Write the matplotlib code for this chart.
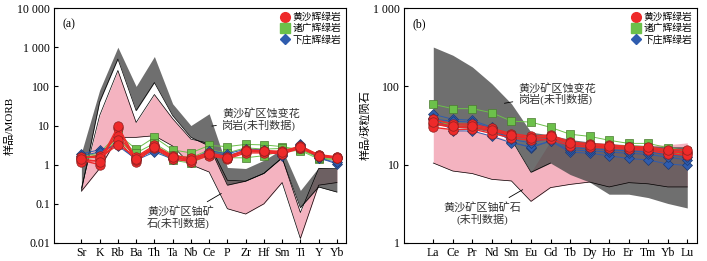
import numpy as np
import matplotlib
matplotlib.use("Agg")
import matplotlib.pyplot as plt
from matplotlib.ticker import FixedLocator, NullLocator

plt.rcParams['font.family'] = ['Liberation Serif', 'Noto Sans CJK SC']
plt.rcParams['axes.unicode_minus'] = False

# ---- data: panel (a), MORB normalised ----
elem_a = ['Sr', 'K', 'Rb', 'Ba', 'Th', 'Ta', 'Nb', 'Ce', 'P', 'Zr', 'Hf', 'Sm', 'Ti', 'Y', 'Yb']

granite_hi_a = [2.0, 80, 1000, 100, 580, 36, 10, 20, 0.85, 0.8, 1.3, 2.5, 0.22, 0.85, 0.8]
granite_lo_a = [0.22, 40, 500, 24, 125, 18, 5, 3.0, 0.3, 0.38, 0.6, 1.5, 0.08, 0.27, 0.2]
ore_hi_a = [0.25, 18, 255, 12, 62, 15, 4.5, 3.5, 0.4, 0.38, 0.6, 1.5, 0.06, 0.8, 0.8]
ore_lo_a = [0.21, 0.8, 5, 5, 5.5, 3, 1.0, 0.65, 0.075, 0.055, 0.1, 0.35, 0.013, 0.3, 0.35]

huangsha_a = [
    [1.3, 1.0, 8.5, 1.15, 3.0, 1.6, 1.4, 1.85, 1.45, 2.3, 2.2, 2.1, 2.8, 1.75, 1.5],
    [1.5, 1.7, 5.5, 1.5, 2.8, 1.5, 1.3, 1.8, 1.5, 2.2, 2.1, 2.0, 2.7, 1.7, 1.55],
    [1.2, 1.3, 4.2, 1.3, 2.6, 1.4, 1.2, 1.7, 1.4, 2.0, 2.0, 1.9, 2.6, 1.65, 1.45],
    [1.6, 1.5, 3.2, 1.6, 3.1, 1.7, 1.5, 2.0, 1.6, 2.4, 2.3, 2.2, 3.0, 1.8, 1.6],
    [1.4, 1.2, 9.5, 1.4, 2.9, 1.55, 1.35, 1.9, 1.5, 2.3, 2.2, 2.1, 2.9, 1.7, 1.5],
]
zhuguang_a = [
    [1.6, 2.0, 6.0, 2.5, 5.0, 2.4, 2.0, 3.1, 2.9, 3.3, 3.2, 2.9, 2.4, 1.6, 1.4],
    [1.4, 1.6, 4.5, 1.6, 2.5, 1.3, 1.1, 1.8, 1.5, 1.5, 1.7, 2.2, 2.3, 1.4, 1.3],
    [1.5, 1.8, 5.0, 2.0, 3.5, 1.8, 1.5, 2.4, 2.0, 2.7, 2.5, 2.6, 2.5, 1.5, 1.35],
]
xiazhuang_a = [
    [1.9, 2.4, 3.0, 1.4, 2.3, 1.5, 1.3, 2.3, 1.9, 2.5, 2.4, 1.7, 3.3, 1.5, 1.05],
    [1.7, 2.1, 3.5, 1.3, 2.1, 1.4, 1.2, 2.0, 1.7, 2.3, 2.2, 1.8, 3.1, 1.45, 1.15],
]

# ---- data: panel (b), chondrite normalised REE ----
elem_b = ['La', 'Ce', 'Pr', 'Nd', 'Sm', 'Eu', 'Gd', 'Tb', 'Dy', 'Ho', 'Er', 'Tm', 'Yb', 'Lu']

granite_hi_b = [318, 250, 177, 108, 60, 26, 24, 21, 19.5, 18.5, 18, 17.5, 17, 17]
granite_lo_b = [33, 30, 29, 26, 21, 8, 10.5, 7.5, 6.0, 4.2, 4.2, 3.8, 3.2, 2.8]
ore_hi_b = [30, 28, 27, 24, 20, 8, 20, 18, 17.5, 17.5, 17.5, 17.5, 18, 19]
ore_lo_b = [10.5, 8.3, 7.7, 6.5, 6.2, 3.4, 5.1, 5.6, 6.0, 5.2, 5.9, 5.7, 5.2, 5.2]

huangsha_b = [
    [38, 33, 33, 29, 25, 23, 24, 19.5, 18.5, 18, 17, 16.5, 15, 14.5],
    [33, 30, 30, 27, 23.5, 21.5, 22.5, 18.5, 17.5, 17, 16.5, 16, 14.5, 14],
    [30, 28, 28.5, 25, 22, 20.5, 21, 17.5, 16.8, 16.3, 15.8, 15.3, 13.8, 13.2],
    [35, 31, 31.5, 28, 24, 22, 23, 19, 18, 17.5, 17, 16.8, 15.5, 15.5],
]
zhuguang_b = [
    [59, 52, 52, 46, 36, 35, 30, 24.5, 23, 20.5, 18.7, 18.7, 16.5, 15],
    [36, 32, 32, 28, 24, 22, 23, 19, 18, 17.5, 17.5, 17, 15, 13],
]
xiazhuang_b = [
    [44, 38, 37, 30, 19.5, 16.5, 20, 14.5, 14, 13, 12, 11.5, 10.2, 9.8],
    [40, 27, 27, 23, 19, 17, 20, 15.5, 15, 14.5, 14, 13.5, 12.5, 11.5],
    [38, 36, 35, 29, 21, 19, 22, 16.5, 16, 15.5, 15, 14.5, 13.5, 12.5],
]

legend_labels = ['黄沙辉绿岩', '诸广辉绿岩', '下庄辉绿岩']

pink = '#f4b3c0'
gray = (75 / 255, 75 / 255, 75 / 255)
red = '#ee2a2a'
green = '#6cc04a'
blue = '#2f5cae'


def draw_samples(ax, x, groups):
    styles = [
        (red, 'o', 6.8, '#8a2020', 1.0),
        (green, 's', 5.5, '#4a7a30', 0.7),
        (blue, 'D', 5.0, '#1e3a70', 0.7),
    ]
    zorders = [6, 4, 5]
    for grp, (c, m, ms, ec, lw), z in zip(groups, styles, zorders):
        for s in grp:
            ax.plot(x, s, color=c, lw=lw, marker=m, ms=ms, mfc=c,
                    mec=ec, mew=0.5, zorder=z)


def style_axes(ax, labels, ylim, yticks, yticklabels):
    ax.set_yscale('log')
    ax.set_ylim(*ylim)
    ax.set_xlim(-1.5, len(labels) - 0.5)
    ax.set_xticks(range(len(labels)))
    ax.set_xticklabels(labels, fontsize=8.5)
    ax.yaxis.set_major_locator(FixedLocator(yticks))
    ax.yaxis.set_minor_locator(NullLocator())
    ax.set_yticklabels(yticklabels, fontsize=8.5)
    ax.tick_params(direction='in', length=3, width=0.8, pad=3)
    for sp in ax.spines.values():
        sp.set_linewidth(0.8)


fig = plt.figure(figsize=(7.07, 2.61), dpi=100)
ax1 = fig.add_axes([0.0764, 0.069, 0.413, 0.900])
ax2 = fig.add_axes([0.5714, 0.069, 0.4145, 0.900])

# ---- panel (a) ----
xa = np.arange(len(elem_a))
ax1.fill_between(xa, ore_lo_a, ore_hi_a, color=pink, lw=0, zorder=1)
ax1.fill_between(xa, granite_lo_a, granite_hi_a, color=gray, alpha=0.8, lw=0, zorder=2)
for edge in (ore_lo_a, ore_hi_a, granite_lo_a):
    ax1.plot(xa, edge, color='black', lw=0.5, zorder=3)
draw_samples(ax1, xa, [huangsha_a, zhuguang_a, xiazhuang_a])
style_axes(ax1, elem_a, (0.01, 10000),
           [0.01, 0.1, 1, 10, 100, 1000, 10000],
           ['0.01', '0.1', '1', '10', '100', '1 000', '10 000'])
ax1.set_ylabel('样品/MORB', fontsize=8, labelpad=2)
ax1.text(0.03, 0.955, '(a)', transform=ax1.transAxes, fontsize=8.5, va='top')

ax1.annotate('黄沙矿区蚀变花\n岗岩(未刊数据)', xy=(7.0, 9.5), xytext=(7.7, 14),
             fontsize=8, color='#333333', va='center', ha='left', linespacing=1.1,
             arrowprops=dict(arrowstyle='-', color='black', lw=0.6))
ax1.annotate('黄沙矿区铀矿\n石(未刊数据)', xy=(7.8, 0.2), xytext=(3.6, 0.045),
             fontsize=8, color='#333333', va='center', ha='left', linespacing=1.1,
             arrowprops=dict(arrowstyle='-', color='black', lw=0.6))

# ---- panel (b) ----
xb = np.arange(len(elem_b))
ax2.fill_between(xb, ore_lo_b, ore_hi_b, color=pink, lw=0, zorder=1)
ax2.fill_between(xb, granite_lo_b, granite_hi_b, color=gray, alpha=0.8, lw=0, zorder=2)
ax2.plot(xb, ore_lo_b, color='black', lw=0.5, zorder=3)
ax2.plot(xb[4:7], granite_lo_b[4:7], color='black', lw=0.5, zorder=3)
draw_samples(ax2, xb, [huangsha_b, zhuguang_b, xiazhuang_b])
style_axes(ax2, elem_b, (1, 1000), [1, 10, 100, 1000],
           ['1', '10', '100', '1 000'])
ax2.set_ylabel('样品/球粒陨石', fontsize=8, labelpad=2)
ax2.text(0.03, 0.955, '(b)', transform=ax2.transAxes, fontsize=8.5, va='top')

ax2.annotate('黄沙矿区蚀变花\n岗岩(未刊数据)', xy=(3.5, 60), xytext=(4.35, 80),
             fontsize=8, color='#333333', va='center', ha='left', linespacing=1.1,
             arrowprops=dict(arrowstyle='-', color='black', lw=0.6))
ax2.annotate('黄沙矿区铀矿石\n(未刊数据)', xy=(4.7, 5.0), xytext=(0.5, 2.4),
             fontsize=8, color='#333333', va='center', ha='left', linespacing=1.1,
             multialignment='center',
             arrowprops=dict(arrowstyle='-', color='black', lw=0.6))

# legends
for ax in (ax1, ax2):
    handles = [
        plt.Line2D([], [], ls='none', marker='o', ms=7, mfc=red, mec=red),
        plt.Line2D([], [], ls='none', marker='s', ms=6.5, mfc=green, mec=green),
        plt.Line2D([], [], ls='none', marker='D', ms=5.5, mfc=blue, mec=blue),
    ]
    ax.legend(handles, legend_labels, loc='upper right', frameon=False,
              fontsize=7, handlelength=0.8, handletextpad=0.4,
              labelspacing=0.15, borderaxespad=0.3, borderpad=0.2)

fig.savefig('out.png', dpi=100)
